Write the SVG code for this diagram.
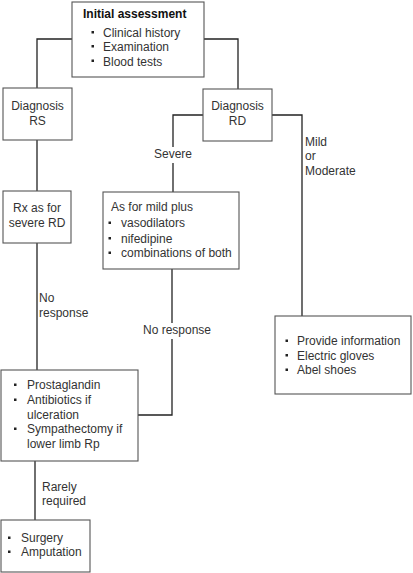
<svg xmlns="http://www.w3.org/2000/svg" width="413" height="573" viewBox="0 0 413 573">
<style>
.box{fill:#fff;stroke:#555;stroke-width:1.1}
.ln{fill:none;stroke:#222;stroke-width:1.3}
text{font-family:"Liberation Sans",Arial,sans-serif;font-size:12px;fill:#333}
.b{font-weight:bold;fill:#111}
.c{text-anchor:middle}
.bl{fill:#222}
</style>
<rect width="413" height="573" fill="#fff"/>
<g id="connectors">
<polyline class="ln" points="72,39 37,39 37,88"/>
<polyline class="ln" points="204,39 238,39 238,89"/>
<polyline class="ln" points="203,115 173,115 173,147"/>
<line class="ln" x1="173" y1="163" x2="173" y2="192"/>
<polyline class="ln" points="272,115 302,115 302,316"/>
<line class="ln" x1="37" y1="140" x2="37" y2="191"/>
<line class="ln" x1="37" y1="243" x2="37" y2="370"/>
<line class="ln" x1="172" y1="269" x2="172" y2="323"/>
<polyline class="ln" points="172,339 172,415 138,415"/>
<line class="ln" x1="35" y1="461" x2="35" y2="520"/>
<text x="173" y="158" class="c">Severe</text>
<text x="305" y="146">Mild</text>
<text x="305" y="160">or</text>
<text x="305" y="175">Moderate</text>
<text x="39" y="302">No</text>
<text x="39" y="317">response</text>
<text x="177" y="334" class="c">No response</text>
<text x="42" y="491">Rarely</text>
<text x="42" y="505">required</text>
</g>
<g id="initial">
<rect class="box" x="72" y="2" width="132" height="75"/>
<text x="83" y="18" class="b">Initial assessment</text>
<rect class="bl" x="91.5" y="31" width="2.5" height="2.5"/>
<text x="103" y="37">Clinical history</text>
<rect class="bl" x="91.5" y="45" width="2.5" height="2.5"/>
<text x="103" y="51">Examination</text>
<rect class="bl" x="91.5" y="59.5" width="2.5" height="2.5"/>
<text x="103" y="65.5">Blood tests</text>
</g>
<g id="diagRS">
<rect class="box" x="3" y="88" width="69" height="52"/>
<text x="37.5" y="110" class="c">Diagnosis</text>
<text x="37.5" y="124.5" class="c">RS</text>
</g>
<g id="diagRD">
<rect class="box" x="203" y="89" width="69" height="52"/>
<text x="237.5" y="110" class="c">Diagnosis</text>
<text x="237.5" y="124.5" class="c">RD</text>
</g>
<g id="rx">
<rect class="box" x="3" y="191" width="68" height="52"/>
<text x="37" y="212" class="c">Rx as for</text>
<text x="37" y="226.5" class="c">severe RD</text>
</g>
<g id="mildplus">
<rect class="box" x="103" y="192" width="136" height="77"/>
<text x="111" y="211">As for mild plus</text>
<rect class="bl" x="108.5" y="221.5" width="2.5" height="2.5"/>
<text x="121" y="227">vasodilators</text>
<rect class="bl" x="108.5" y="237" width="2.5" height="2.5"/>
<text x="121" y="242.5">nifedipine</text>
<rect class="bl" x="108.5" y="251.5" width="2.5" height="2.5"/>
<text x="121" y="257">combinations of both</text>
</g>
<g id="mild">
<rect class="box" x="275" y="316" width="136" height="78"/>
<rect class="bl" x="285.5" y="339.5" width="2.5" height="2.5"/>
<text x="297" y="345">Provide information</text>
<rect class="bl" x="285.5" y="354" width="2.5" height="2.5"/>
<text x="297" y="359.5">Electric gloves</text>
<rect class="bl" x="285.5" y="368.5" width="2.5" height="2.5"/>
<text x="297" y="374">Abel shoes</text>
</g>
<g id="prosta">
<rect class="box" x="1" y="370" width="137" height="91"/>
<rect class="bl" x="14" y="383.5" width="2.5" height="2.5"/>
<text x="27" y="389">Prostaglandin</text>
<rect class="bl" x="14" y="398.5" width="2.5" height="2.5"/>
<text x="27" y="404">Antibiotics if</text>
<text x="27" y="418.5">ulceration</text>
<rect class="bl" x="14" y="427.5" width="2.5" height="2.5"/>
<text x="27" y="433">Sympathectomy if</text>
<text x="27" y="447.5">lower limb Rp</text>
</g>
<g id="surgery">
<rect class="box" x="1" y="520" width="89" height="52"/>
<rect class="bl" x="8" y="536.5" width="2.5" height="2.5"/>
<text x="21" y="542">Surgery</text>
<rect class="bl" x="8" y="550.5" width="2.5" height="2.5"/>
<text x="21" y="556">Amputation</text>
</g>
</svg>
